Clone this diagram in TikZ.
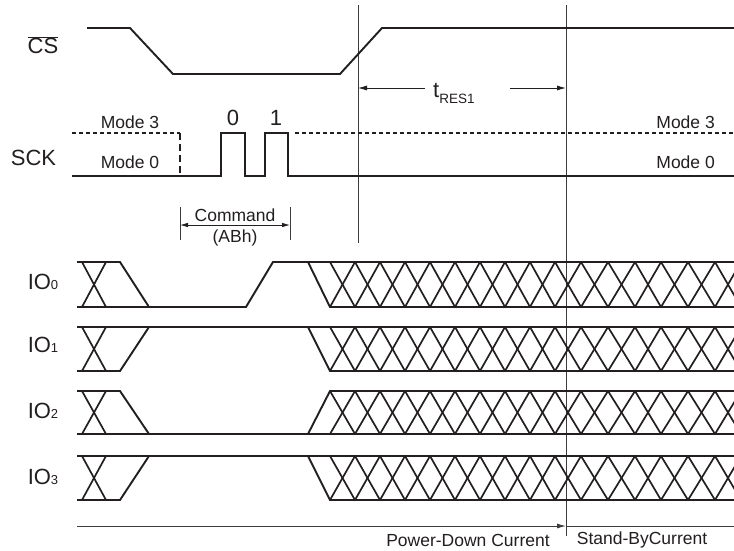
\documentclass[tikz,border=0pt]{standalone}
\usepackage{fontspec}
\setmainfont{Liberation Sans}
\usetikzlibrary{arrows.meta}
\definecolor{ink}{RGB}{35,31,32}
\definecolor{guide}{RGB}{60,60,60}
\begin{document}
\begin{tikzpicture}[x=1pt,y=-1pt,
  sig/.style={draw=ink,line width=1.9pt,line join=miter},
  hatch/.style={draw=ink,line width=1.7pt},
  guideline/.style={draw=guide,line width=0.9pt},
  dashsig/.style={draw=ink,line width=1.3pt,dash pattern=on 4pt off 3pt},
  big/.style={inner sep=0pt,font=\fontsize{22}{24}\selectfont,text=ink},
  small/.style={inner sep=0pt,font=\fontsize{17.5}{20}\selectfont,text=ink},
  dimarrow/.style={draw=ink,line width=0.8pt,-{Latex[length=9pt,width=5pt]}},
]
\useasboundingbox (0,0) rectangle (734,550);
\fill[white] (0,0) rectangle (734,550);

% guide lines
\coordinate (g1t) at (358,5); \coordinate (g1b) at (358,243);
\coordinate (g2t) at (566,5); \coordinate (g2b) at (566,536);
\draw[guideline] (g1t) -- (g1b);
\draw[guideline] (g2t) -- (g2b);

% CS
\node[big] (cs) at (43,45) {$\overline{\mbox{CS}}$};
\draw[sig] (87,28) -- (130,28) -- (173,74) -- (340,74) -- (382,28) -- (734,28);

% tRES1
\node[inner sep=0pt,anchor=base west,text=ink] (tres) at (433,97)
  {\fontsize{22}{24}\selectfont t\raisebox{-6pt}{\fontsize{13.5}{14}\selectfont RES1}};
\coordinate (ta) at (425,88); \coordinate (tb) at (510,88);
\coordinate (tl) at (358,88); \coordinate (tr) at (566,88);
\draw[dimarrow] (ta) -- (tl);
\draw[dimarrow] (tb) -- (tr);

% SCK
\node[big] (sck) at (33.5,158) {SCK};
\node[small] (m3l) at (130,122) {Mode 3};
\node[small] (m0l) at (130,162) {Mode 0};
\node[small,anchor=east] (m3r) at (715,122) {Mode 3};
\node[small,anchor=east] (m0r) at (715,162) {Mode 0};
\node[big] (b0) at (233,118) {0};
\node[big] (b1) at (276,118) {1};
\draw[dashsig] (72,133) -- (180,133);
\draw[dashsig,dash pattern=on 7pt off 4pt] (180,133) -- (180,176);
\draw[dashsig] (295,133) -- (734,133);
\draw[sig] (72,176) -- (221,176) -- (221,133) -- (245,133) -- (245,176)
  -- (265,176) -- (265,133) -- (288,133) -- (288,176) -- (734,176);

% Command
\coordinate (c1t) at (180,207); \coordinate (c1b) at (180,240);
\coordinate (c2t) at (290,207); \coordinate (c2b) at (290,240);
\draw[guideline,line width=0.8pt] (c1t) -- (c1b);
\draw[guideline,line width=0.8pt] (c2t) -- (c2b);
\coordinate (ca) at (180,225); \coordinate (cb) at (290,225);
\draw[draw=ink,line width=0.8pt,{Latex[length=8pt,width=4.5pt]}-{Latex[length=8pt,width=4.5pt]}] (ca) -- (cb);
\node[small] (cmd) at (235,215) {Command};
\node[small] (abh) at (235,238) {(ABh)};

% IO labels
\node[big] (io0) at (43,282) {IO{\fontsize{13}{14}\selectfont 0}};
\node[big] (io1) at (43,345) {IO{\fontsize{13}{14}\selectfont 1}};
\node[big] (io2) at (43,411) {IO{\fontsize{13}{14}\selectfont 2}};
\node[big] (io3) at (43,477) {IO{\fontsize{13}{14}\selectfont 3}};

% left X segments
\foreach \t/\b in {262/307,327/371,391/434,456/500}{
  \draw[hatch] (82,\t) -- (106,\b);
  \draw[hatch] (106,\t) -- (82,\b);
}
% crosshatch
\begin{scope}
\clip (0,0) rectangle (734,550);
\foreach \t/\b in {262/307,327/371,391/434,456/500}{
  \foreach \a/\c in {330/355,355/380,380/405,405/430,430/455,455/480,480/505,505/530,530/555,555/581,581/608,608/635,635/661,661/688,688/715,715/741}{
    \draw[hatch] (\a,\t) -- (\c,\b);
    \draw[hatch] (\a,\b) -- (\c,\t);
  }
}
\end{scope}

% IO0
\draw[sig] (77,262) -- (120,262) -- (149,307);
\draw[sig] (77,307) -- (246,307) -- (273,262) -- (734,262);
\draw[sig] (308,262) -- (330,307) -- (734,307);
% IO1
\draw[sig] (77,327) -- (734,327);
\draw[sig] (77,371) -- (120,371) -- (149,327);
\draw[sig] (308,327) -- (330,371) -- (734,371);
% IO2
\draw[sig] (77,391) -- (120,391) -- (149,434);
\draw[sig] (77,434) -- (734,434);
\draw[sig] (308,434) -- (330,391) -- (734,391);
% IO3
\draw[sig] (77,456) -- (734,456);
\draw[sig] (77,500) -- (120,500) -- (149,456);
\draw[sig] (308,456) -- (330,500) -- (734,500);

% bottom current arrow
\coordinate (pa) at (77,526); \coordinate (pb) at (566,526); \coordinate (pc) at (734,526);
\draw[draw=guide,line width=1pt,-{Latex[length=9pt,width=5pt]}] (pa) -- (pb);
\draw[draw=guide,line width=1pt] (pb) -- (pc);
\node[small] (pd) at (468,540) {Power-Down Current};
\node[small] (sb) at (642,540) {Stand-ByCurrent};
\end{tikzpicture}
\end{document}
